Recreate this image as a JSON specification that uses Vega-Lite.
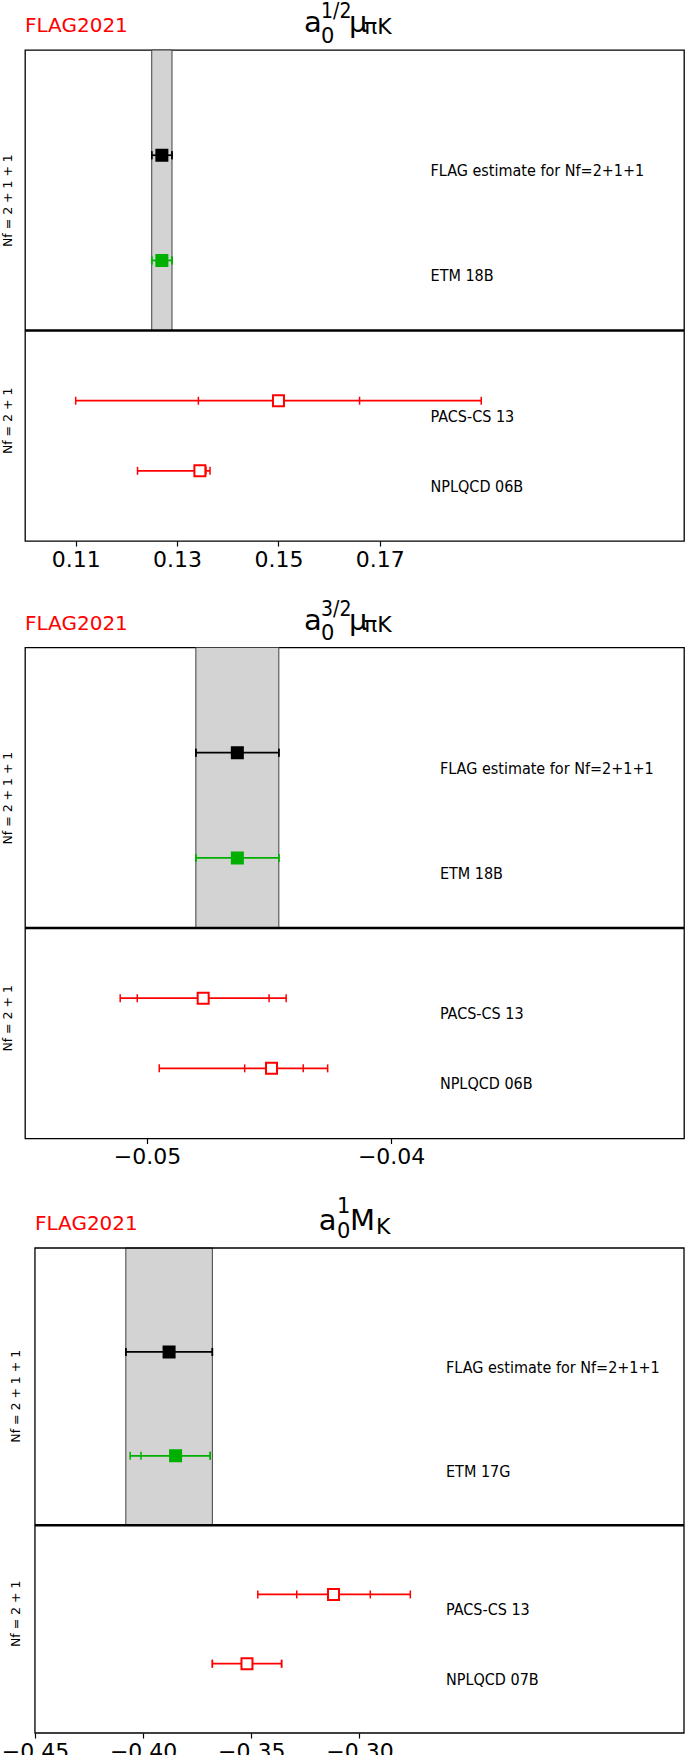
{
  "$schema": "https://vega.github.io/schema/vega-lite/v6.json",
  "background": "white",
  "padding": {"left": 0, "top": 0, "right": 0, "bottom": 0},
  "columns": 1,
  "align": "none",
  "bounds": "full",
  "spacing": 26.5,
  "config": {"view": {"stroke": "black", "strokeWidth": 1.3, "fill": "white"}, "axis": {"grid": false}},
  "concat": [
    {
      "width": 659,
      "height": 491,
      "data": {"values": [
        {"name": "FLAG estimate for Nf=2+1+1", "kind": "flag", "y": 1.5, "v": 0.127, "lo": 0.125, "hi": 0.129, "slo": 0.125, "shi": 0.129},
        {"name": "ETM 18B", "kind": "etm", "y": 3, "v": 0.127, "lo": 0.125, "hi": 0.129, "slo": 0.125, "shi": 0.129},
        {"name": "PACS-CS 13", "kind": "other", "y": 5, "v": 0.150, "lo": 0.110, "hi": 0.190, "slo": 0.1342, "shi": 0.166},
        {"name": "NPLQCD 06B", "kind": "other", "y": 6, "v": 0.1345, "lo": 0.1222, "hi": 0.1365, "slo": 0.1335, "shi": 0.1357}
      ]},
      "layer": [
        {
          "data": {"values": [{"lo": 0.125, "hi": 0.129}]},
          "mark": {"type": "rect", "fill": "#d3d3d3", "stroke": "#404040", "strokeWidth": 1},
          "encoding": {
            "x": {"field": "lo", "type": "quantitative", "title": null, "scale": {"domain": [0.1, 0.23], "nice": false, "zero": false}},
            "x2": {"field": "hi"},
            "y": {"datum": 0, "type": "quantitative", "scale": {"domain": [0, 7], "reverse": true, "nice": false, "zero": false}},
            "y2": {"datum": 4}
          }
        },
        {
          "data": {"values": [{"d": 1}]},
          "mark": {"type": "rule", "color": "black", "strokeWidth": 2.5},
          "encoding": {"y": {"datum": 4, "type": "quantitative"}}
        },
        {
          "mark": {"type": "rule", "strokeWidth": 1.7},
          "encoding": {
            "x": {"field": "lo", "type": "quantitative", "title": null,
              "scale": {"domain": [0.1, 0.23], "nice": false, "zero": false},
              "axis": {"title": null, "values": [0.11, 0.13, 0.15, 0.17], "format": ".2f", "labelFont": "DejaVu Sans", "labelFontSize": 22, "labelColor": "black", "tickColor": "black", "tickSize": 5, "tickWidth": 1.2, "domain": false, "grid": false, "labelPadding": 3, "labelFlush": false, "labelOverlap": false}},
            "x2": {"field": "hi"},
            "y": {"field": "y", "type": "quantitative", "title": null,
              "scale": {"domain": [0, 7], "reverse": true, "nice": false, "zero": false},
              "axis": {"title": null, "values": [2.14, 5.28], "labelExpr": "datum.value < 4 ? 'Nf = 2 + 1 + 1' : 'Nf = 2 + 1'", "labelAngle": 270, "labelAlign": "center", "labelBaseline": "bottom", "labelFont": "DejaVu Sans", "labelFontSize": 12.5, "labelColor": "black", "ticks": false, "tickSize": 0, "domain": false, "grid": false, "labelPadding": 11}},
            "color": {"field": "kind", "type": "nominal", "scale": {"domain": ["flag", "etm", "other"], "range": ["#000000", "#00b000", "#ff0000"]}, "legend": null}
          }
        },
        {
          "transform": [{"fold": ["lo", "hi", "slo", "shi"], "as": ["which", "cap"]}],
          "mark": {"type": "tick", "orient": "vertical", "thickness": 1.5, "size": 8, "opacity": 1},
          "encoding": {
            "x": {"field": "cap", "type": "quantitative", "title": null},
            "y": {"field": "y", "type": "quantitative", "title": null},
            "color": {"field": "kind", "type": "nominal", "legend": null}
          }
        },
        {
          "mark": {"type": "point", "shape": "square", "size": 121, "strokeWidth": 2, "opacity": 1, "filled": true},
          "encoding": {
            "x": {"field": "v", "type": "quantitative", "title": null},
            "y": {"field": "y", "type": "quantitative", "title": null},
            "fill": {"field": "kind", "type": "nominal", "scale": {"domain": ["flag", "etm", "other"], "range": ["#000000", "#00b000", "#ffffff"]}, "legend": null},
            "stroke": {"field": "kind", "type": "nominal", "scale": {"domain": ["flag", "etm", "other"], "range": ["#000000", "#00b000", "#ff0000"]}, "legend": null}
          }
        },
        {
          "mark": {"type": "text", "align": "left", "baseline": "middle", "dy": 16, "font": "DejaVu Sans Condensed, DejaVu Sans", "fontSize": 16, "fill": "black"},
          "encoding": {
            "x": {"datum": 0.18, "type": "quantitative"},
            "y": {"field": "y", "type": "quantitative", "title": null},
            "text": {"field": "name"}
          }
        },
        {
          "data": {"values": [{"t": "FLAG2021"}]},
          "mark": {"type": "text", "align": "left", "baseline": "alphabetic", "font": "DejaVu Sans", "fontSize": 20, "fill": "#ff0000"},
          "encoding": {"x": {"datum": 0.1, "type": "quantitative"}, "y": {"datum": -0.2566, "type": "quantitative"}, "text": {"field": "t"}}
        },
        {
          "data": {"values": [{"t": "a"}]},
          "mark": {"type": "text", "align": "left", "baseline": "alphabetic", "font": "DejaVu Sans", "fontSize": 29, "fill": "black"},
          "encoding": {"x": {"datum": 0.15504, "type": "quantitative"}, "y": {"datum": -0.2566, "type": "quantitative"}, "text": {"field": "t"}}
        },
        {
          "data": {"values": [{"t": "0"}]},
          "mark": {"type": "text", "align": "left", "baseline": "alphabetic", "font": "DejaVu Sans", "fontSize": 21, "fill": "black"},
          "encoding": {"x": {"datum": 0.15840, "type": "quantitative"}, "y": {"datum": -0.104, "type": "quantitative"}, "text": {"field": "t"}}
        },
        {
          "data": {"values": [{"t": "1/2"}]},
          "mark": {"type": "text", "align": "left", "baseline": "alphabetic", "font": "DejaVu Sans Condensed, DejaVu Sans", "fontSize": 21, "fill": "black"},
          "encoding": {"x": {"datum": 0.15840, "type": "quantitative"}, "y": {"datum": -0.4562, "type": "quantitative"}, "text": {"field": "t"}}
        },
        {
          "data": {"values": [{"t": "μ"}]},
          "mark": {"type": "text", "align": "left", "baseline": "alphabetic", "font": "DejaVu Sans", "fontSize": 29, "fill": "black"},
          "encoding": {"x": {"datum": 0.16392, "type": "quantitative"}, "y": {"datum": -0.2566, "type": "quantitative"}, "text": {"field": "t"}}
        },
        {
          "data": {"values": [{"t": "πK"}]},
          "mark": {"type": "text", "align": "left", "baseline": "alphabetic", "font": "DejaVu Sans", "fontSize": 22, "fill": "black"},
          "encoding": {"x": {"datum": 0.16688, "type": "quantitative"}, "y": {"datum": -0.2238, "type": "quantitative"}, "text": {"field": "t"}}
        }
      ]
    },
    {
      "width": 659,
      "height": 491,
      "data": {"values": [
        {"name": "FLAG estimate for Nf=2+1+1", "kind": "flag", "y": 1.5, "v": -0.0463, "lo": -0.0480, "hi": -0.0446, "slo": -0.0480, "shi": -0.0446},
        {"name": "ETM 18B", "kind": "etm", "y": 3, "v": -0.0463, "lo": -0.0480, "hi": -0.0446, "slo": -0.0480, "shi": -0.0446},
        {"name": "PACS-CS 13", "kind": "other", "y": 5, "v": -0.0477, "lo": -0.0511, "hi": -0.0443, "slo": -0.0504, "shi": -0.0450},
        {"name": "NPLQCD 06B", "kind": "other", "y": 6, "v": -0.0449, "lo": -0.0495, "hi": -0.0426, "slo": -0.0460, "shi": -0.0436}
      ]},
      "layer": [
        {
          "data": {"values": [{"lo": -0.0480, "hi": -0.0446}]},
          "mark": {"type": "rect", "fill": "#d3d3d3", "stroke": "#404040", "strokeWidth": 1},
          "encoding": {
            "x": {"field": "lo", "type": "quantitative", "title": null, "scale": {"domain": [-0.055, -0.028], "nice": false, "zero": false}},
            "x2": {"field": "hi"},
            "y": {"datum": 0, "type": "quantitative", "scale": {"domain": [0, 7], "reverse": true, "nice": false, "zero": false}},
            "y2": {"datum": 4}
          }
        },
        {
          "data": {"values": [{"d": 1}]},
          "mark": {"type": "rule", "color": "black", "strokeWidth": 2.5},
          "encoding": {"y": {"datum": 4, "type": "quantitative"}}
        },
        {
          "mark": {"type": "rule", "strokeWidth": 1.7},
          "encoding": {
            "x": {"field": "lo", "type": "quantitative", "title": null,
              "scale": {"domain": [-0.055, -0.028], "nice": false, "zero": false},
              "axis": {"title": null, "values": [-0.05, -0.04], "format": ".2f", "labelFont": "DejaVu Sans", "labelFontSize": 22, "labelColor": "black", "tickColor": "black", "tickSize": 5, "tickWidth": 1.2, "domain": false, "grid": false, "labelPadding": 3, "labelFlush": false, "labelOverlap": false}},
            "x2": {"field": "hi"},
            "y": {"field": "y", "type": "quantitative", "title": null,
              "scale": {"domain": [0, 7], "reverse": true, "nice": false, "zero": false},
              "axis": {"title": null, "values": [2.14, 5.28], "labelExpr": "datum.value < 4 ? 'Nf = 2 + 1 + 1' : 'Nf = 2 + 1'", "labelAngle": 270, "labelAlign": "center", "labelBaseline": "bottom", "labelFont": "DejaVu Sans", "labelFontSize": 12.5, "labelColor": "black", "ticks": false, "tickSize": 0, "domain": false, "grid": false, "labelPadding": 11}},
            "color": {"field": "kind", "type": "nominal", "scale": {"domain": ["flag", "etm", "other"], "range": ["#000000", "#00b000", "#ff0000"]}, "legend": null}
          }
        },
        {
          "transform": [{"fold": ["lo", "hi", "slo", "shi"], "as": ["which", "cap"]}],
          "mark": {"type": "tick", "orient": "vertical", "thickness": 1.5, "size": 8, "opacity": 1},
          "encoding": {
            "x": {"field": "cap", "type": "quantitative", "title": null},
            "y": {"field": "y", "type": "quantitative", "title": null},
            "color": {"field": "kind", "type": "nominal", "legend": null}
          }
        },
        {
          "mark": {"type": "point", "shape": "square", "size": 121, "strokeWidth": 2, "opacity": 1, "filled": true},
          "encoding": {
            "x": {"field": "v", "type": "quantitative", "title": null},
            "y": {"field": "y", "type": "quantitative", "title": null},
            "fill": {"field": "kind", "type": "nominal", "scale": {"domain": ["flag", "etm", "other"], "range": ["#000000", "#00b000", "#ffffff"]}, "legend": null},
            "stroke": {"field": "kind", "type": "nominal", "scale": {"domain": ["flag", "etm", "other"], "range": ["#000000", "#00b000", "#ff0000"]}, "legend": null}
          }
        },
        {
          "mark": {"type": "text", "align": "left", "baseline": "middle", "dy": 16, "font": "DejaVu Sans Condensed, DejaVu Sans", "fontSize": 16, "fill": "black"},
          "encoding": {
            "x": {"datum": -0.038, "type": "quantitative"},
            "y": {"field": "y", "type": "quantitative", "title": null},
            "text": {"field": "name"}
          }
        },
        {
          "data": {"values": [{"t": "FLAG2021"}]},
          "mark": {"type": "text", "align": "left", "baseline": "alphabetic", "font": "DejaVu Sans", "fontSize": 20, "fill": "#ff0000"},
          "encoding": {"x": {"datum": -0.055, "type": "quantitative"}, "y": {"datum": -0.2566, "type": "quantitative"}, "text": {"field": "t"}}
        },
        {
          "data": {"values": [{"t": "a"}]},
          "mark": {"type": "text", "align": "left", "baseline": "alphabetic", "font": "DejaVu Sans", "fontSize": 29, "fill": "black"},
          "encoding": {"x": {"datum": -0.043569, "type": "quantitative"}, "y": {"datum": -0.2566, "type": "quantitative"}, "text": {"field": "t"}}
        },
        {
          "data": {"values": [{"t": "0"}]},
          "mark": {"type": "text", "align": "left", "baseline": "alphabetic", "font": "DejaVu Sans", "fontSize": 21, "fill": "black"},
          "encoding": {"x": {"datum": -0.042872, "type": "quantitative"}, "y": {"datum": -0.104, "type": "quantitative"}, "text": {"field": "t"}}
        },
        {
          "data": {"values": [{"t": "3/2"}]},
          "mark": {"type": "text", "align": "left", "baseline": "alphabetic", "font": "DejaVu Sans Condensed, DejaVu Sans", "fontSize": 21, "fill": "black"},
          "encoding": {"x": {"datum": -0.042872, "type": "quantitative"}, "y": {"datum": -0.4562, "type": "quantitative"}, "text": {"field": "t"}}
        },
        {
          "data": {"values": [{"t": "μ"}]},
          "mark": {"type": "text", "align": "left", "baseline": "alphabetic", "font": "DejaVu Sans", "fontSize": 29, "fill": "black"},
          "encoding": {"x": {"datum": -0.041725, "type": "quantitative"}, "y": {"datum": -0.2566, "type": "quantitative"}, "text": {"field": "t"}}
        },
        {
          "data": {"values": [{"t": "πK"}]},
          "mark": {"type": "text", "align": "left", "baseline": "alphabetic", "font": "DejaVu Sans", "fontSize": 22, "fill": "black"},
          "encoding": {"x": {"datum": -0.041110, "type": "quantitative"}, "y": {"datum": -0.2238, "type": "quantitative"}, "text": {"field": "t"}}
        }
      ]
    },
    {
      "width": 659,
      "height": 485,
      "view": {"stroke": "transparent"},
      "data": {"values": [
        {"name": "FLAG estimate for Nf=2+1+1", "kind": "flag", "y": 1.5, "v": -0.388, "lo": -0.408, "hi": -0.368, "slo": -0.408, "shi": -0.368},
        {"name": "ETM 17G", "kind": "etm", "y": 3, "v": -0.385, "lo": -0.406, "hi": -0.369, "slo": -0.401, "shi": -0.369},
        {"name": "PACS-CS 13", "kind": "other", "y": 5, "v": -0.312, "lo": -0.347, "hi": -0.2765, "slo": -0.329, "shi": -0.295},
        {"name": "NPLQCD 07B", "kind": "other", "y": 6, "v": -0.352, "lo": -0.368, "hi": -0.336, "slo": -0.368, "shi": -0.336}
      ]},
      "layer": [
        {
          "data": {"values": [{"lo": -0.408, "hi": -0.368}]},
          "mark": {"type": "rect", "fill": "#d3d3d3", "stroke": "#404040", "strokeWidth": 1},
          "encoding": {
            "x": {"field": "lo", "type": "quantitative", "title": null, "scale": {"domain": [-0.4546, -0.15], "nice": false, "zero": false}},
            "x2": {"field": "hi"},
            "y": {"datum": 0, "type": "quantitative", "scale": {"domain": [0, 7], "reverse": true, "nice": false, "zero": false}},
            "y2": {"datum": 4}
          }
        },
        {
          "data": {"values": [{"bx": -0.45, "bx2": -0.15, "by": 0, "by2": 7}]},
          "mark": {"type": "rect", "fill": "transparent", "stroke": "black", "strokeWidth": 1.3},
          "encoding": {
            "x": {"field": "bx", "type": "quantitative", "title": null},
            "x2": {"field": "bx2"},
            "y": {"field": "by", "type": "quantitative", "title": null},
            "y2": {"field": "by2"}
          }
        },
        {
          "data": {"values": [{"bx": -0.45, "bx2": -0.15, "by": 4}]},
          "mark": {"type": "rule", "color": "black", "strokeWidth": 2.5},
          "encoding": {
            "x": {"field": "bx", "type": "quantitative", "title": null},
            "x2": {"field": "bx2"},
            "y": {"field": "by", "type": "quantitative", "title": null}
          }
        },
        {
          "mark": {"type": "rule", "strokeWidth": 1.7},
          "encoding": {
            "x": {"field": "lo", "type": "quantitative", "title": null,
              "scale": {"domain": [-0.4546, -0.15], "nice": false, "zero": false},
              "axis": {"title": null, "values": [-0.45, -0.4, -0.35, -0.3], "format": ".2f", "labelFont": "DejaVu Sans", "labelFontSize": 22, "labelColor": "black", "tickColor": "black", "tickSize": 5, "tickWidth": 1.2, "domain": false, "grid": false, "labelPadding": 3, "labelFlush": false, "labelOverlap": false}},
            "x2": {"field": "hi"},
            "y": {"field": "y", "type": "quantitative", "title": null,
              "scale": {"domain": [0, 7], "reverse": true, "nice": false, "zero": false},
              "axis": {"title": null, "labels": false, "ticks": false, "domain": false, "grid": false}},
            "color": {"field": "kind", "type": "nominal", "scale": {"domain": ["flag", "etm", "other"], "range": ["#000000", "#00b000", "#ff0000"]}, "legend": null}
          }
        },
        {
          "transform": [{"fold": ["lo", "hi", "slo", "shi"], "as": ["which", "cap"]}],
          "mark": {"type": "tick", "orient": "vertical", "thickness": 1.5, "size": 8, "opacity": 1},
          "encoding": {
            "x": {"field": "cap", "type": "quantitative", "title": null},
            "y": {"field": "y", "type": "quantitative", "title": null},
            "color": {"field": "kind", "type": "nominal", "legend": null}
          }
        },
        {
          "mark": {"type": "point", "shape": "square", "size": 121, "strokeWidth": 2, "opacity": 1, "filled": true},
          "encoding": {
            "x": {"field": "v", "type": "quantitative", "title": null},
            "y": {"field": "y", "type": "quantitative", "title": null},
            "fill": {"field": "kind", "type": "nominal", "scale": {"domain": ["flag", "etm", "other"], "range": ["#000000", "#00b000", "#ffffff"]}, "legend": null},
            "stroke": {"field": "kind", "type": "nominal", "scale": {"domain": ["flag", "etm", "other"], "range": ["#000000", "#00b000", "#ff0000"]}, "legend": null}
          }
        },
        {
          "mark": {"type": "text", "align": "left", "baseline": "middle", "dy": 16, "font": "DejaVu Sans Condensed, DejaVu Sans", "fontSize": 16, "fill": "black"},
          "encoding": {
            "x": {"datum": -0.26, "type": "quantitative"},
            "y": {"field": "y", "type": "quantitative", "title": null},
            "text": {"field": "name"}
          }
        },
        {
          "data": {"values": [{"t": "Nf = 2 + 1 + 1", "g": 2.14}, {"t": "Nf = 2 + 1", "g": 5.28}]},
          "mark": {"type": "text", "angle": 270, "align": "center", "baseline": "middle", "font": "DejaVu Sans", "fontSize": 12.5, "fill": "black"},
          "encoding": {
            "x": {"datum": -0.45899, "type": "quantitative"},
            "y": {"field": "g", "type": "quantitative", "title": null},
            "text": {"field": "t"}
          }
        },
        {
          "data": {"values": [{"t": "FLAG2021"}]},
          "mark": {"type": "text", "align": "left", "baseline": "alphabetic", "font": "DejaVu Sans", "fontSize": 20, "fill": "#ff0000"},
          "encoding": {"x": {"datum": -0.45, "type": "quantitative"}, "y": {"datum": -0.26, "type": "quantitative"}, "text": {"field": "t"}}
        },
        {
          "data": {"values": [{"t": "a"}]},
          "mark": {"type": "text", "align": "left", "baseline": "alphabetic", "font": "DejaVu Sans", "fontSize": 29, "fill": "black"},
          "encoding": {"x": {"datum": -0.31880, "type": "quantitative"}, "y": {"datum": -0.26, "type": "quantitative"}, "text": {"field": "t"}}
        },
        {
          "data": {"values": [{"t": "0"}]},
          "mark": {"type": "text", "align": "left", "baseline": "alphabetic", "font": "DejaVu Sans", "fontSize": 21, "fill": "black"},
          "encoding": {"x": {"datum": -0.31040, "type": "quantitative"}, "y": {"datum": -0.140, "type": "quantitative"}, "text": {"field": "t"}}
        },
        {
          "data": {"values": [{"t": "1"}]},
          "mark": {"type": "text", "align": "left", "baseline": "alphabetic", "font": "DejaVu Sans", "fontSize": 21, "fill": "black"},
          "encoding": {"x": {"datum": -0.31040, "type": "quantitative"}, "y": {"datum": -0.505, "type": "quantitative"}, "text": {"field": "t"}}
        },
        {
          "data": {"values": [{"t": "M"}]},
          "mark": {"type": "text", "align": "left", "baseline": "alphabetic", "font": "DejaVu Sans", "fontSize": 29, "fill": "black"},
          "encoding": {"x": {"datum": -0.30440, "type": "quantitative"}, "y": {"datum": -0.26, "type": "quantitative"}, "text": {"field": "t"}}
        },
        {
          "data": {"values": [{"t": "K"}]},
          "mark": {"type": "text", "align": "left", "baseline": "alphabetic", "font": "DejaVu Sans", "fontSize": 22, "fill": "black"},
          "encoding": {"x": {"datum": -0.2924, "type": "quantitative"}, "y": {"datum": -0.202, "type": "quantitative"}, "text": {"field": "t"}}
        }
      ]
    }
  ]
}
